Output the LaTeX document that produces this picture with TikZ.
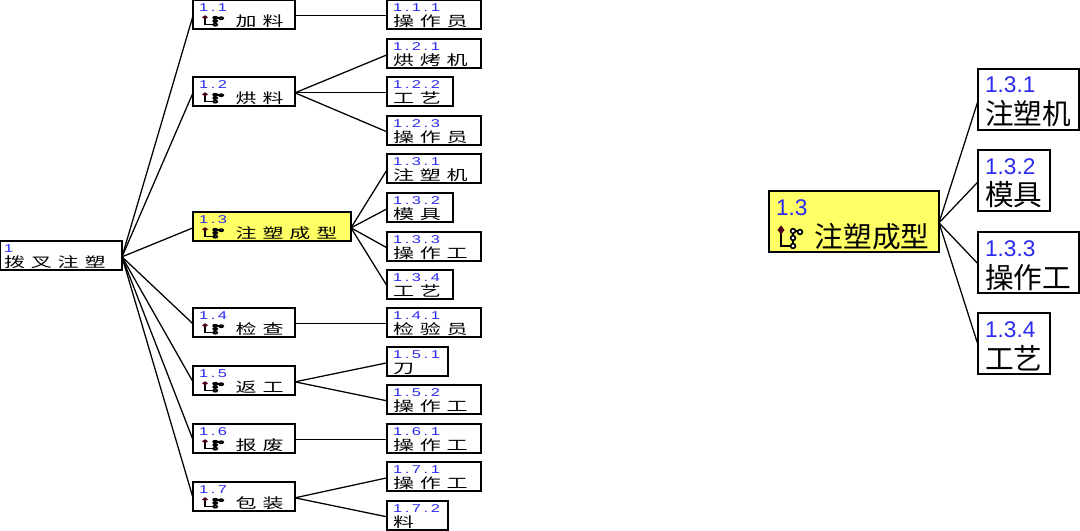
\documentclass[tikz,border=0pt]{standalone}
\usepackage{fontspec}
\usepackage{graphicx}
\usetikzlibrary{calc}
\newfontfamily\cjksmall[LetterSpace=28]{Noto Sans CJK SC}
\newfontfamily\cjkbig{Noto Sans CJK SC}
\newfontfamily\numsmall[LetterSpace=16]{Liberation Sans}
\newfontfamily\numbig{Liberation Sans}
\definecolor{numblue}{HTML}{2A2AF0}
\definecolor{hilite}{HTML}{FFFF66}
\newcommand{\widen}[2][1.45]{\scalebox{#1}[1]{#2}}
\newcommand{\smalltxt}[2]{\widen{\color{numblue}\numsmall\fontsize{8.5}{11}\selectfont #1}\\\widen[1.5]{\cjksmall\fontsize{10.5}{11}\selectfont #2}}
\newcommand{\icontxt}[2]{\widen{\color{numblue}\numsmall\fontsize{8.5}{11}\selectfont #1}\\\hspace*{27.5pt}\widen[1.5]{\cjksmall\fontsize{10.5}{11}\selectfont #2}}
\newcommand{\bigtxt}[2]{{\color{numblue}\numbig\fontsize{17}{24}\selectfont #1}\\{\cjkbig\fontsize{21.5}{24}\selectfont #2}}
\begin{document}
\begin{tikzpicture}[
  x=0.75pt, y=-0.75pt,
  box/.style={draw, line width=1pt, anchor=north west, outer sep=0pt, inner ysep=0pt, inner xsep=4.5pt, align=left, minimum height=21.75pt, text height=8pt, text depth=12.5pt, font=\fontsize{10}{11}\selectfont},
  rootbox/.style={box, inner xsep=3pt, text width=85.5pt},
  midbox/.style={box, text width=67.5pt},
  hibox/.style={box, text width=109.5pt, fill=hilite},
  leafwide/.style={box, text width=61.5pt},
  leafmid/.style={box, text width=40.5pt},
  leafthin/.style={box, text width=36.75pt},
  bigbox/.style={draw, line width=1.1pt, anchor=north west, outer sep=0pt, inner ysep=0pt, inner xsep=5.25pt, align=left, minimum height=45.75pt, text height=14.25pt, text depth=24pt, font=\fontsize{20}{24}\selectfont},
  bighi/.style={bigbox, text width=117pt, fill=hilite},
  bigwide/.style={bigbox, text width=65.25pt},
  bigthin/.style={bigbox, text width=43.5pt},
  link/.style={draw, line width=0.95pt},
  treeicon/.pic={
    \draw[line width=1.2pt] (3,5) -- (3,21) -- (15,21) -- (15,6) -- (22,6);
    \draw[line width=1.2pt, fill=white] (15,21) circle (2.4);
    \draw[line width=1.2pt, fill=white] (15,13) circle (2.4);
    \draw[line width=1.2pt, fill=white] (15,6) circle (2.4);
    \draw[line width=1.2pt, fill=white] (22,7) circle (2.4);
    \fill[black!60!purple] (3,0.5) -- (6.5,5) -- (3,9.5) -- (-0.5,5) -- cycle;
  }
]
\useasboundingbox (0,0) rectangle (1080,531);
% left tree
\node[rootbox] (n1) at (0,241) {\smalltxt{1}{拨叉注塑}};
\node[midbox] (n11) at (193,0) {\icontxt{1.1}{加料}};
\node[midbox] (n12) at (193,77) {\icontxt{1.2}{烘料}};
\node[hibox] (n13) at (193,212) {\icontxt{1.3}{注塑成型}};
\node[midbox] (n14) at (193,308) {\icontxt{1.4}{检查}};
\node[midbox] (n15) at (193,366) {\icontxt{1.5}{返工}};
\node[midbox] (n16) at (193,424) {\icontxt{1.6}{报废}};
\node[midbox] (n17) at (193,482) {\icontxt{1.7}{包装}};
\node[leafwide] (n111) at (387,0) {\smalltxt{1.1.1}{操作员}};
\node[leafwide] (n121) at (387,39) {\smalltxt{1.2.1}{烘烤机}};
\node[leafmid] (n122) at (387,77) {\smalltxt{1.2.2}{工艺}};
\node[leafwide] (n123) at (387,116) {\smalltxt{1.2.3}{操作员}};
\node[leafwide] (n131) at (387,154) {\smalltxt{1.3.1}{注塑机}};
\node[leafmid] (n132) at (387,193) {\smalltxt{1.3.2}{模具}};
\node[leafwide] (n133) at (387,232) {\smalltxt{1.3.3}{操作工}};
\node[leafmid] (n134) at (387,270) {\smalltxt{1.3.4}{工艺}};
\node[leafwide] (n141) at (387,308) {\smalltxt{1.4.1}{检验员}};
\node[leafthin] (n151) at (387,347) {\smalltxt{1.5.1}{刀}};
\node[leafwide] (n152) at (387,385) {\smalltxt{1.5.2}{操作工}};
\node[leafwide] (n161) at (387,424) {\smalltxt{1.6.1}{操作工}};
\node[leafwide] (n171) at (387,462) {\smalltxt{1.7.1}{操作工}};
\node[leafthin] (n172) at (387,501) {\smalltxt{1.7.2}{料}};
% right detail
\node[bighi] (z13) at (769,191) {\bigtxt{1.3}{\hspace*{29pt}注塑成型}};
\node[bigwide] (z131) at (978,69) {\bigtxt{1.3.1}{注塑机}};
\node[bigthin] (z132) at (978,150) {\bigtxt{1.3.2}{模具}};
\node[bigwide] (z133) at (978,232) {\bigtxt{1.3.3}{操作工}};
\node[bigthin] (z134) at (978,313) {\bigtxt{1.3.4}{工艺}};
% icons
\foreach \n in {n11,n12,n13,n14,n15,n16,n17}
  \pic[xscale=0.85, yscale=0.46] at ($(\n.north west)+(9.5,15)$) {treeicon};
\pic[xscale=1, yscale=1] at ($(z13.north west)+(9,34)$) {treeicon};
% connectors
\foreach \a/\b in {n1/n11,n1/n12,n1/n13,n1/n14,n1/n15,n1/n16,n1/n17,
  n11/n111,n12/n121,n12/n122,n12/n123,n13/n131,n13/n132,n13/n133,n13/n134,
  n14/n141,n15/n151,n15/n152,n16/n161,n17/n171,n17/n172,
  z13/z131,z13/z132,z13/z133,z13/z134}
  \draw[link] ([yshift=-1pt]\a.east) -- ([yshift=-1pt]\b.west);
\end{tikzpicture}
\end{document}
